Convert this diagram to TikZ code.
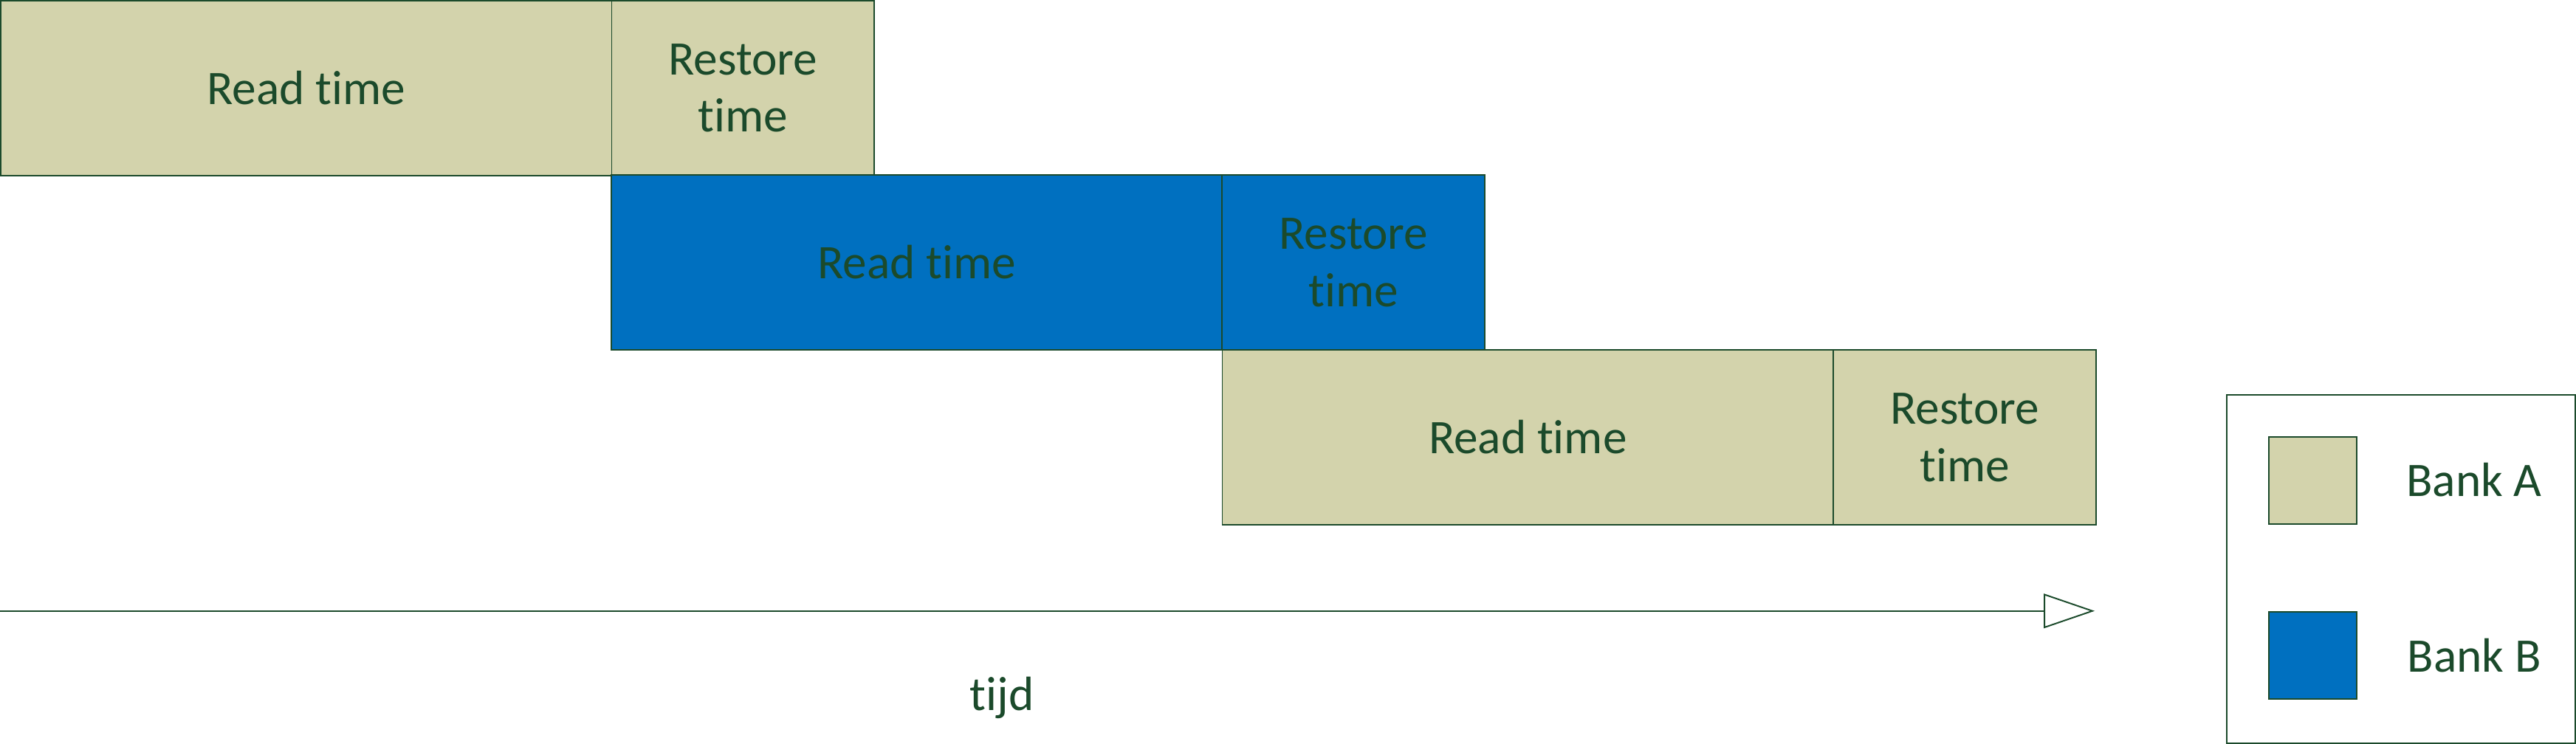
\documentclass[tikz,border=0pt]{standalone}
\usepackage{fontspec}
\setmainfont{Carlito}[RawFeature=-liga]
\usetikzlibrary{positioning,arrows.meta}
\definecolor{bankA}{HTML}{D3D3AC}
\definecolor{bankB}{HTML}{0070C0}
\definecolor{inkgreen}{HTML}{1B4A2B}
\begin{document}
\begin{tikzpicture}[x=0.02cm,y=-0.02cm,
    txt/.style={text=inkgreen,font=\fontsize{16.7}{19.9}\selectfont,align=center},
    blok/.style={txt,draw=inkgreen,line width=0.5pt,inner sep=0pt,outer sep=0pt,minimum height=2.13cm},
    lees/.style={blok,minimum width=7.44cm},
    herstel/.style={blok,minimum width=3.2cm}]
    \useasboundingbox (0,0) rectangle (1568,452.6);
    % read + restore per row
    \foreach \i/\x/\y/\c in {1/0.4/0.4/bankA,2/372/106.5/bankB,3/744/213/bankA}{
      \node[lees,fill=\c,anchor=north west] (read\i) at (\x,\y) {Read time};
      \node[herstel,fill=\c,right=0pt of read\i] (restore\i) {Restore\\time};
    }
    % time axis
    \coordinate (t0) at (0,372);
    \coordinate (t1) at (1275,372);
    \draw[inkgreen,line width=0.5pt,-{Triangle[open,length=0.62cm,width=0.42cm]}] (t0) -- (t1);
    \node[txt] (tijd) at (610,425) {tijd};
    % legend
    \node[draw=inkgreen,line width=0.5pt,minimum width=4.24cm,minimum height=4.24cm,anchor=north west,inner sep=0pt] (legend) at (1355,240) {};
    \node[blok,fill=bankA,minimum width=1.07cm,minimum height=1.06cm,anchor=north west] (keyA) at (1381,266) {};
    \node[blok,fill=bankB,minimum width=1.07cm,minimum height=1.06cm,anchor=north west] (keyB) at (1381,372.5) {};
    \node[txt] (labelA) at (1506,292) {Bank A};
    \node[txt] (labelB) at (1506,399) {Bank B};
\end{tikzpicture}
\end{document}
